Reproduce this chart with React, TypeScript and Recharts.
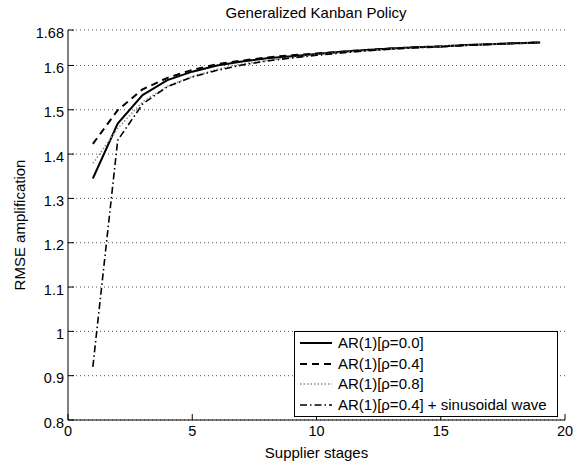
import React from 'react';
import { LineChart, Line, XAxis, YAxis, CartesianGrid, Legend } from 'recharts';

// supplier stages on the x axis
const stages = [1, 2, 3, 4, 5, 6, 7, 8, 9, 10, 11, 12, 13, 14, 15, 16, 17, 18, 19];

// RMSE amplification for each demand model
const ar00 = [1.345, 1.469, 1.533, 1.567, 1.586, 1.600, 1.609, 1.616, 1.621, 1.626, 1.631, 1.635, 1.638, 1.641, 1.643, 1.646, 1.648, 1.650, 1.652];
const ar04 = [1.423, 1.499, 1.546, 1.572, 1.590, 1.603, 1.611, 1.618, 1.623, 1.627, 1.631, 1.635, 1.638, 1.641, 1.643, 1.646, 1.648, 1.650, 1.652];
const ar08 = [1.379, 1.458, 1.518, 1.553, 1.575, 1.591, 1.603, 1.611, 1.618, 1.624, 1.629, 1.633, 1.637, 1.640, 1.643, 1.645, 1.648, 1.650, 1.652];
const ar04sin = [0.920, 1.431, 1.513, 1.552, 1.574, 1.589, 1.601, 1.610, 1.617, 1.623, 1.628, 1.633, 1.637, 1.640, 1.642, 1.645, 1.648, 1.650, 1.652];

const xTicks = [0, 5, 10, 15, 20];
const yTicks = [0.8, 0.9, 1, 1.1, 1.2, 1.3, 1.4, 1.5, 1.6, 1.68];

const series = [
  { key: 'ar00', name: 'AR(1)[ρ=0.0]', stroke: '#000', width: 2, dash: undefined },
  { key: 'ar04', name: 'AR(1)[ρ=0.4]', stroke: '#000', width: 2, dash: '7 5' },
  { key: 'ar08', name: 'AR(1)[ρ=0.8]', stroke: '#8a8a8a', width: 1.5, dash: '1.5 2' },
  { key: 'ar04sin', name: 'AR(1)[ρ=0.4] + sinusoidal wave', stroke: '#000', width: 1.6, dash: '7 3 1.5 3' },
];

const data = stages.map((s, i) => ({
  stage: s,
  ar00: ar00[i],
  ar04: ar04[i],
  ar08: ar08[i],
  ar04sin: ar04sin[i],
}));

const FONT = '"Liberation Sans", Arial, Helvetica, sans-serif';
const TICK = 6;

const BottomTick = (p: any) => {
  const axisY = p.y - 4;
  return (
    <g>
      <line x1={p.x} y1={axisY} x2={p.x} y2={axisY - TICK} stroke="#000" />
      <text x={p.x} y={p.y} dy="0.85em" textAnchor="middle" fontSize={14.5} fontFamily={FONT} fill="#000">
        {p.payload.value}
      </text>
    </g>
  );
};

const LeftTick = (p: any) => {
  const axisX = p.x + 4;
  return (
    <g>
      <line x1={axisX} y1={p.y} x2={axisX + TICK} y2={p.y} stroke="#000" />
      <text x={p.x} y={p.y} dy="0.52em" textAnchor="end" fontSize={14.5} fontFamily={FONT} fill="#000">
        {p.payload.value}
      </text>
    </g>
  );
};

const TopTick = (p: any) => (
  <line x1={p.x} y1={p.y} x2={p.x} y2={p.y + TICK} stroke="#000" />
);

const RightTick = (p: any) => (
  <line x1={p.x} y1={p.y} x2={p.x - TICK} y2={p.y} stroke="#000" />
);

const LegendBox = () => (
  <div
    style={{
      border: '1px solid #000',
      background: '#fff',
      width: 262,
      padding: '1px 0',
      fontFamily: FONT,
      fontSize: 15,
      lineHeight: '20px',
    }}
  >
    {series.map((s) => (
      <div key={s.key} style={{ display: 'flex', alignItems: 'center', height: 20.5 }}>
        <svg width={40} height={20} style={{ marginLeft: 3 }}>
          <line x1={2} y1={10} x2={34} y2={10} stroke={s.stroke} strokeWidth={s.width} strokeDasharray={s.dash} />
        </svg>
        <span>{s.name}</span>
      </div>
    ))}
  </div>
);

export default function App() {
  return (
    <div style={{ position: 'absolute', left: 0, top: 0, width: 575, height: 465, background: '#fff' }}>
      <div
        style={{
          position: 'absolute',
          left: 316,
          top: 4,
          transform: 'translateX(-50%)',
          whiteSpace: 'nowrap',
          fontFamily: FONT,
          fontSize: 15,
        }}
      >
        Generalized Kanban Policy
      </div>
      <div
        style={{
          position: 'absolute',
          left: 19,
          top: 225,
          transform: 'translate(-50%, -50%) rotate(-90deg)',
          whiteSpace: 'nowrap',
          fontFamily: FONT,
          fontSize: 15,
        }}
      >
        RMSE amplification
      </div>
      <LineChart width={575} height={465} data={data} margin={{ top: 30, right: 10, bottom: 0, left: 8 }}>
        <CartesianGrid vertical={false} stroke="#555" strokeDasharray="1 3" />
        <XAxis
          type="number"
          dataKey="stage"
          domain={[0, 20]}
          ticks={xTicks}
          height={45}
          tickSize={0}
          tickMargin={4}
          tickLine={false}
          axisLine={{ stroke: '#000' }}
          tick={<BottomTick />}
          interval={0}
          label={{ value: 'Supplier stages', position: 'insideBottom', offset: 7, fill: '#000', fontSize: 15, fontFamily: FONT }}
        />
        <XAxis
          xAxisId="top"
          orientation="top"
          type="number"
          domain={[0, 20]}
          ticks={xTicks}
          height={0}
          tickSize={0}
          tickMargin={0}
          tickLine={false}
          axisLine={{ stroke: '#000' }}
          tick={<TopTick />}
          interval={0}
        />
        <YAxis
          type="number"
          domain={[0.8, 1.68]}
          ticks={yTicks}
          width={60}
          tickSize={0}
          tickMargin={4}
          tickLine={false}
          axisLine={{ stroke: '#000' }}
          tick={<LeftTick />}
          interval={0}
          allowDataOverflow
        />
        <YAxis
          yAxisId="right"
          orientation="right"
          type="number"
          domain={[0.8, 1.68]}
          ticks={yTicks}
          width={0}
          tickSize={0}
          tickMargin={0}
          tickLine={false}
          axisLine={{ stroke: '#000' }}
          tick={<RightTick />}
          interval={0}
        />
        <Legend
          layout="horizontal"
          verticalAlign="middle"
          align="center"
          content={<LegendBox />}
          wrapperStyle={{ position: 'absolute', left: 294, top: 331, width: 264, bottom: 'auto' }}
        />
        {series.map((s) => (
          <Line
            key={s.key}
            dataKey={s.key}
            name={s.name}
            type="linear"
            stroke={s.stroke}
            strokeWidth={s.width}
            strokeDasharray={s.dash}
            dot={false}
            activeDot={false}
            isAnimationActive={false}
          />
        ))}
      </LineChart>
    </div>
  );
}
